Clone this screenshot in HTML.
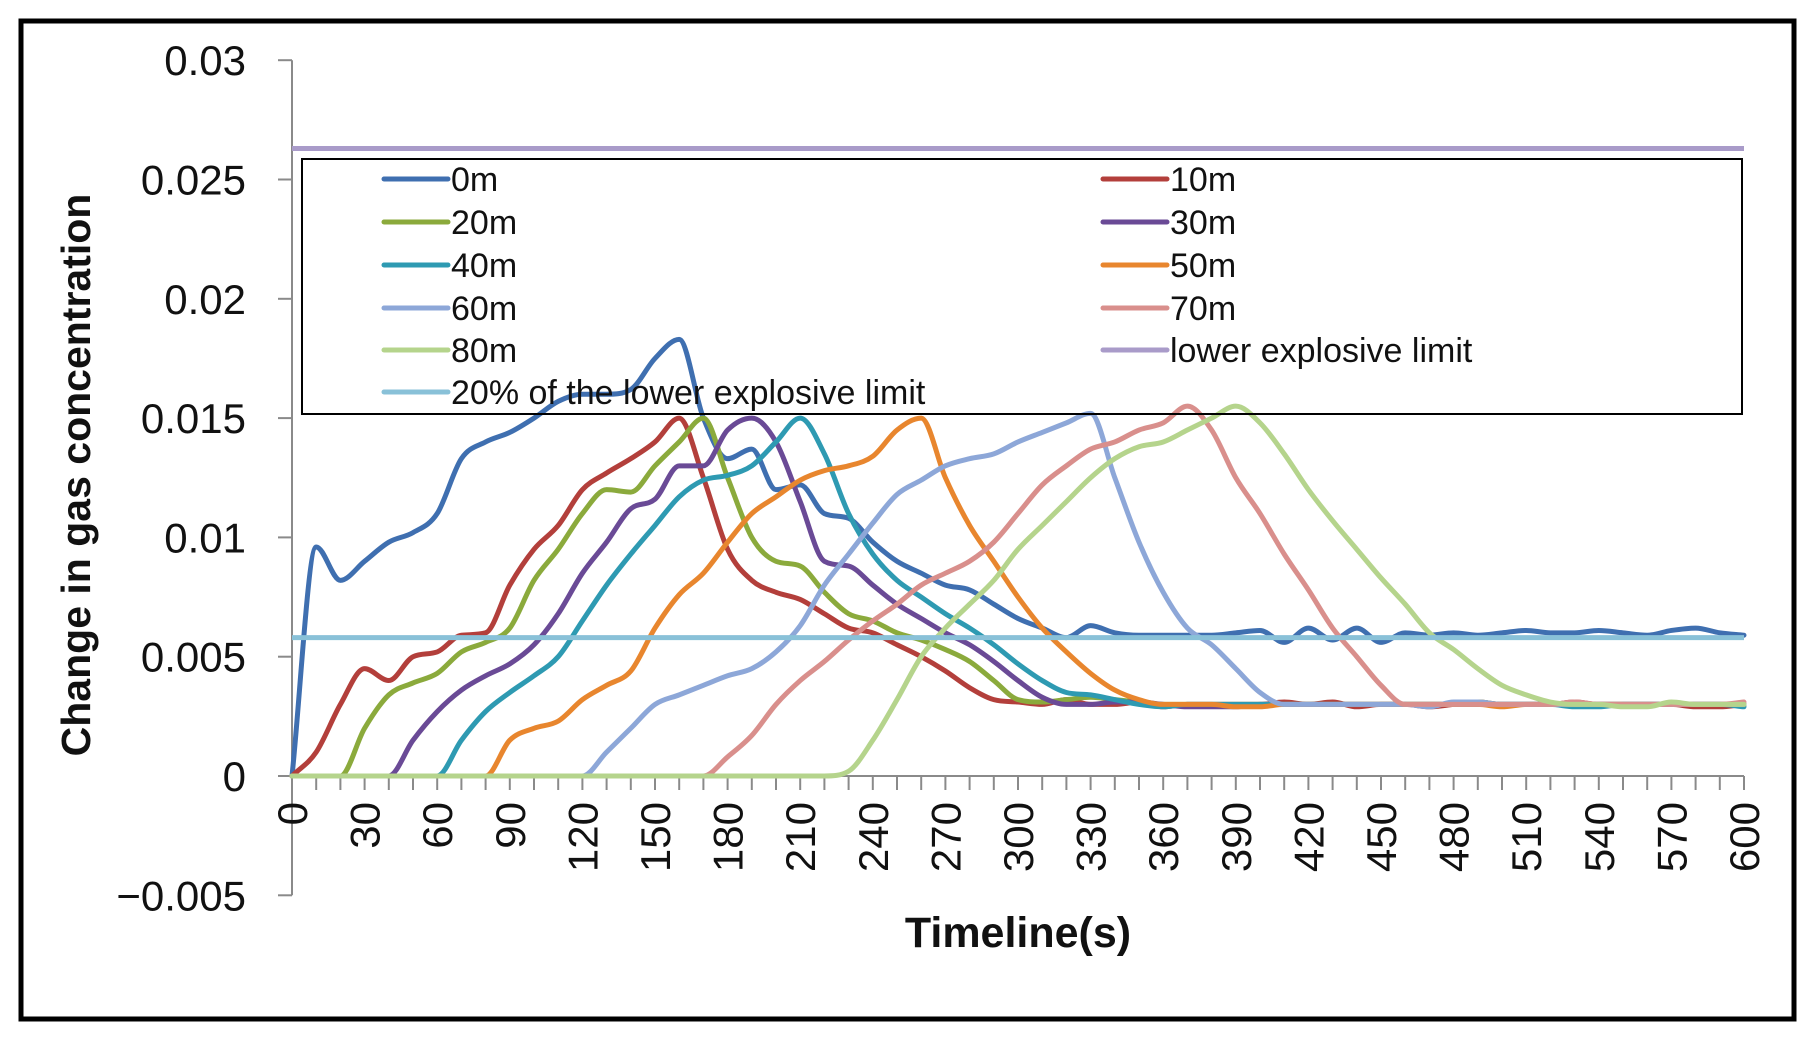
<!DOCTYPE html>
<html><head><meta charset="utf-8"><style>
html,body{margin:0;padding:0;background:#fff;}
svg{display:block;font-family:"Liberation Sans",sans-serif;}
</style></head><body>
<svg id="chart" width="1815" height="1043" viewBox="0 0 1815 1043">
<rect x="21" y="21" width="1773" height="998" fill="#fff" stroke="#000" stroke-width="5"/>
<g id="axes"></g>
<g id="series"></g>
<g id="legend"></g>
<text x="79" y="475" transform="rotate(-90 79 475)" text-anchor="middle" dominant-baseline="middle" font-size="41" font-weight="bold" fill="#111">Change in gas concentration</text>
<text x="1018" y="947" text-anchor="middle" font-size="43" font-weight="bold" fill="#111">Timeline(s)</text>
</svg>
<script>
const seriesNames = ["0m","10m","20m","30m","40m","50m","60m","70m","80m"];
const seriesColors = ["#3F6FB0","#B33F3B","#8BAA3C","#6A4A96","#2E9AB2","#E8862E","#8DA7D8","#D98F8C","#B5D48C"];
// values in thousandths, one per 10 s from 0 to 600
const v0m = [0,9.6,8.2,9.0,9.8,10.2,11.0,13.3,14.0,14.4,15.0,15.7,16.0,16.0,16.2,17.5,18.3,15.0,13.3,13.7,12.0,12.2,11.0,10.8,9.8,9.0,8.5,8.0,7.8,7.2,6.6,6.2,5.8,6.3,6.0,5.9,5.9,5.9,5.9,6.0,6.1,5.6,6.2,5.7,6.2,5.6,6.0,5.9,6.0,5.9,6.0,6.1,6.0,6.0,6.1,6.0,5.9,6.1,6.2,6.0,5.9];
const v10m = [0,1.0,3.0,4.5,4.0,5.0,5.2,5.9,6.0,8.0,9.5,10.5,12.0,12.7,13.3,14.0,15.0,12.5,9.5,8.2,7.7,7.4,6.8,6.2,6.0,5.5,5.0,4.4,3.7,3.2,3.1,3.0,3.2,3.0,3.0,3.1,2.9,3.0,3.0,3.0,3.0,3.1,3.0,3.1,2.9,3.0,3.0,2.9,3.0,3.1,3.0,3.0,3.0,3.1,3.0,3.0,3.0,3.0,2.9,2.9,3.0];
const v20m = [0,0,0,2.0,3.4,3.9,4.3,5.2,5.6,6.2,8.2,9.5,11.0,12.0,11.9,13.0,14.0,15.0,12.5,10.0,9.0,8.8,7.7,6.8,6.5,6.0,5.7,5.3,4.8,4.0,3.2,3.1,3.2,3.3,3.2,3.1,3.0,3.0,3.0,3.0,3.0,3.0,3.0,3.0,3.0,3.0,3.0,3.0,3.0,3.1,3.0,3.0,3.0,3.0,3.0,3.0,3.0,3.0,3.0,3.0,3.0];
const v30m = [0,0,0,0,0,1.5,2.7,3.6,4.2,4.7,5.5,6.8,8.5,9.8,11.2,11.6,13.0,13.0,14.5,15.0,14.0,11.5,9.0,8.8,8.0,7.2,6.6,6.0,5.5,4.8,4.0,3.3,3.0,3.0,3.1,3.1,3.0,2.9,2.9,2.9,3.0,3.0,3.0,3.0,3.0,3.0,3.0,3.0,3.0,3.0,3.0,3.0,3.0,3.0,3.0,3.0,3.0,3.0,3.0,3.0,3.0];
const v40m = [0,0,0,0,0,0,0,1.5,2.7,3.5,4.2,5.0,6.5,8.0,9.3,10.5,11.7,12.4,12.6,13.0,14.0,15.0,13.5,11.0,9.3,8.2,7.5,6.8,6.2,5.5,4.7,4.0,3.5,3.4,3.2,3.0,2.9,3.0,3.0,3.0,3.0,3.0,3.0,3.0,3.0,3.0,3.0,3.0,3.0,3.0,3.0,3.0,3.0,2.9,2.9,3.0,3.0,3.0,3.0,3.0,2.9];
const v50m = [0,0,0,0,0,0,0,0,0,1.5,2.0,2.3,3.2,3.8,4.4,6.2,7.6,8.5,9.8,11.0,11.7,12.4,12.8,13.0,13.4,14.5,15.0,12.5,10.5,9.0,7.5,6.2,5.2,4.3,3.6,3.2,3.0,3.0,3.0,2.9,2.9,3.0,3.0,3.0,3.0,3.0,3.0,3.0,3.0,3.0,2.9,3.0,3.0,3.0,3.0,3.0,3.0,3.0,3.0,3.0,3.0];
const v60m = [0,0,0,0,0,0,0,0,0,0,0,0,0,1.0,2.0,3.0,3.4,3.8,4.2,4.5,5.2,6.3,8.0,9.3,10.6,11.8,12.4,13.0,13.3,13.5,14.0,14.4,14.8,15.2,12.5,9.8,7.7,6.2,5.5,4.5,3.5,3.0,3.0,3.0,3.0,3.0,3.0,2.9,3.1,3.1,3.0,3.0,3.0,3.0,3.0,3.0,3.0,3.0,3.0,3.0,3.0];
const v70m = [0,0,0,0,0,0,0,0,0,0,0,0,0,0,0,0,0,0,0.8,1.7,3.0,4.0,4.8,5.7,6.5,7.2,8.0,8.5,9.0,9.8,11.0,12.2,13.0,13.7,14.0,14.5,14.8,15.5,14.5,12.5,11.0,9.3,7.8,6.2,5.0,3.8,3.0,3.0,3.0,3.0,3.0,3.0,3.0,3.1,3.0,3.0,3.0,3.0,3.0,3.0,3.1];
const v80m = [0,0,0,0,0,0,0,0,0,0,0,0,0,0,0,0,0,0,0,0,0,0,0,0.2,1.5,3.2,5.0,6.2,7.2,8.2,9.5,10.5,11.5,12.5,13.3,13.8,14.0,14.5,15.0,15.5,14.8,13.5,12.0,10.7,9.5,8.3,7.2,6.0,5.3,4.5,3.8,3.4,3.1,3.0,3.0,2.9,2.9,3.1,3.0,3.0,3.0];
const seriesValues = [v0m,v10m,v20m,v30m,v40m,v50m,v60m,v70m,v80m];
const lowerExplosiveLimit = 0.0263;
const twentyPercentLimit = 0.0058;
const yTicks = [0.03,0.025,0.02,0.015,0.01,0.005,0,-0.005];
const yTickLabels = ["0.03","0.025","0.02","0.015","0.01","0.005","0","\u22120.005"];
const xTickLabels = ["0","30","60","90","120","150","180","210","240","270","300","330","360","390","420","450","480","510","540","570","600"];

const NS = "http://www.w3.org/2000/svg";
const X0 = 292, X1 = 1744, Y0 = 776, PX_PER_UNIT = 119.3/0.005;
const xs = t => X0 + (t/600)*(X1-X0);
const ys = v => Y0 - v*PX_PER_UNIT;
function mk(tag, attrs, parent){const e=document.createElementNS(NS,tag);for(const k in attrs)e.setAttribute(k,attrs[k]);parent.appendChild(e);return e;}
const axes = document.getElementById("axes");
const yAxis = mk("line",{x1:X0,y1:ys(0.03),x2:X0,y2:ys(-0.005),stroke:"#8a8a8a","stroke-width":2},axes);


yTicks.forEach((v,i)=>{
  const tk = mk("line",{x1:X0-14,y1:ys(v),x2:X0,y2:ys(v),stroke:"#8a8a8a","stroke-width":2},axes);
  
  
  const tx = mk("text",{x:246,y:ys(v)+15,"text-anchor":"end","font-size":42,fill:"#111"},axes);
  tx.textContent = yTickLabels[i];
  
  
});
const xAxis = mk("line",{x1:X0,y1:Y0,x2:X1,y2:Y0,stroke:"#8a8a8a","stroke-width":2},axes);


for(let t=0;t<=600;t+=10){
  const tk = mk("line",{x1:xs(t),y1:Y0,x2:xs(t),y2:Y0+14,stroke:"#8a8a8a","stroke-width":2},axes);
  
  
}
xTickLabels.forEach(l=>{
  const t = +l, x = xs(t)+15, y = 802;
  const tx = mk("text",{x:x,y:y,"text-anchor":"end","font-size":42,fill:"#111",transform:`rotate(-90 ${x} ${y})`},axes);
  tx.textContent = l;
  
  
});
// monotone cubic path (no overshoot)
function smoothPath(pts){
  const n=pts.length, d=[], m=new Array(n);
  for(let i=0;i<n-1;i++) d.push((pts[i+1][1]-pts[i][1])/(pts[i+1][0]-pts[i][0]));
  m[0]=d[0]; m[n-1]=d[n-2];
  for(let i=1;i<n-1;i++) m[i]=(d[i-1]*d[i]<=0)?0:(d[i-1]+d[i])/2;
  for(let i=0;i<n-1;i++){
    if(d[i]===0){m[i]=0;m[i+1]=0;continue;}
    const a=m[i]/d[i], b=m[i+1]/d[i], s=a*a+b*b;
    if(s>9){const t=3/Math.sqrt(s);m[i]=t*a*d[i];m[i+1]=t*b*d[i];}
  }
  let p=`M${pts[0][0]},${pts[0][1]}`;
  for(let i=0;i<n-1;i++){
    const h=(pts[i+1][0]-pts[i][0])/3;
    p+=` C${pts[i][0]+h},${pts[i][1]+m[i]*h} ${pts[i+1][0]-h},${pts[i+1][1]-m[i+1]*h} ${pts[i+1][0]},${pts[i+1][1]}`;
  }
  return p;
}
const sg = document.getElementById("series");
seriesValues.forEach((vals,si)=>{
  const pts = vals.map((v,i)=>[xs(i*10), ys(v/1000)]);
  const p = mk("path",{d:smoothPath(pts),fill:"none",stroke:seriesColors[si],"stroke-width":5,"stroke-linejoin":"round","stroke-linecap":"round"},sg);
  
  
});
const lel = mk("line",{x1:X0,y1:ys(lowerExplosiveLimit),x2:X1,y2:ys(lowerExplosiveLimit),stroke:"#A99BC9","stroke-width":5},sg);


const tw = mk("line",{x1:X0,y1:ys(twentyPercentLimit),x2:X1,y2:ys(twentyPercentLimit),stroke:"#89C1D8","stroke-width":5},sg);



const lg = document.getElementById("legend");
const box = mk("rect",{x:302,y:159,width:1440,height:255,fill:"none",stroke:"#000","stroke-width":2},lg);


const legendLabels = ["0m","10m","20m","30m","40m","50m","60m","70m","80m","lower explosive limit","20% of the lower explosive limit"];
const legendColors = seriesColors.concat(["#A99BC9","#89C1D8"]);
const rowsY = [179,222,265,308,350,392];
legendLabels.forEach((lab,i)=>{
  const col = i%2, row = Math.floor(i/2);
  const lx = col===0 ? 384 : 1103, y = rowsY[row];
  const ln = mk("line",{x1:lx,y1:y,x2:lx+64,y2:y,stroke:legendColors[i],"stroke-width":5,"stroke-linecap":"round"},lg);
  
  
  const tx = mk("text",{x:lx+67,y:y+12,"font-size":34,fill:"#111"},lg);
  tx.textContent = lab;
  
  
});
</script>
</body></html>
